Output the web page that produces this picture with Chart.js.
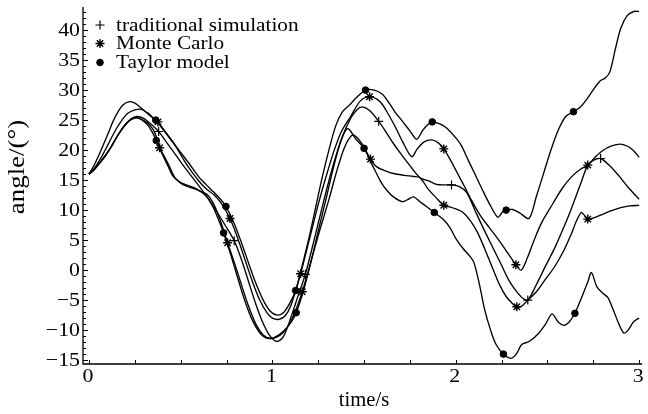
<!DOCTYPE html>
<html>
<head>
<meta charset="utf-8">
<title>angle vs time</title>
<script src="https://cdn.jsdelivr.net/npm/chart.js@4/dist/chart.umd.min.js"></script>
<style>
  html, body { margin: 0; padding: 0; background: #ffffff; }
  #plot { display: block; width: 648px; height: 414px; }
</style>
</head>
<body>
<canvas id="plot" width="648" height="414"></canvas>
<script>
// Angle trajectories, [time (s), angle (deg)]
const taylorUpper = [
  [0,16],[0.025,17.3],[0.05,18.9],[0.08,21],[0.105,22.8],[0.13,24.7],[0.159,26.4],[0.185,27.5],
  [0.215,28.05],[0.245,27.9],[0.27,27.4],[0.3,26.6],[0.335,25.7],[0.364,25],[0.4,23.6],[0.45,21.6],
  [0.5,19.6],[0.55,17.6],[0.6,15.5],[0.64,14.2],[0.68,13],[0.715,11.9],[0.747,10.6],[0.79,7.9],
  [0.83,4.7],[0.87,1.2],[0.91,-2.2],[0.95,-5],[0.99,-6.9],[1.027,-7.5],[1.06,-7.1],[1.09,-5.8],
  [1.127,-3.4],[1.16,0.4],[1.2,5.4],[1.235,10.3],[1.27,15.2],[1.31,20.2],[1.345,24],[1.38,26.3],
  [1.42,27.5],[1.46,28.8],[1.508,30],[1.555,30],[1.6,29.3],[1.64,27.7],[1.67,26.3],[1.71,24.8],
  [1.75,23.2],[1.787,21.8],[1.82,23.3],[1.85,24.3],[1.872,24.7],[1.91,24.4],[1.95,23.7],[1.99,22.4],
  [2.03,20.8],[2.07,18.2],[2.1,16.3],[2.15,13.1],[2.19,10.7],[2.23,8.8],[2.255,9.7],[2.275,10],
  [2.31,10.1],[2.35,9.5],[2.4,8.6],[2.44,12.3],[2.48,16.2],[2.52,20.1],[2.56,23.4],[2.6,25.6],
  [2.642,26.4],[2.68,27.2],[2.72,28.7],[2.76,30.5],[2.79,31.6],[2.815,32],[2.84,33],[2.87,36.8],
  [2.9,40.3],[2.935,42.4],[2.97,43.1],[3,43.1]
];
const monteCarloUpper = [
  [0,16],[0.03,17],[0.06,18.4],[0.09,20.1],[0.12,21.9],[0.15,23.6],[0.18,25],[0.21,26.1],
  [0.25,26.7],[0.285,26.8],[0.32,26.2],[0.35,25.4],[0.376,24.7],[0.42,22.9],[0.47,20.8],[0.52,18.2],
  [0.56,16.4],[0.6,14.8],[0.64,13.5],[0.68,12.6],[0.72,11.2],[0.769,8.6],[0.81,5.4],[0.85,1.8],
  [0.89,-1.8],[0.93,-4.9],[0.97,-7.1],[1.0,-8],[1.036,-8.2],[1.07,-7.6],[1.1,-6],[1.154,-0.6],
  [1.2,4.9],[1.255,11.5],[1.3,16.3],[1.34,20.2],[1.38,23.3],[1.427,25.6],[1.48,28.2],[1.53,28.9],
  [1.57,28.5],[1.6,27.6],[1.63,26.1],[1.67,23.9],[1.71,21.4],[1.76,18.9],[1.79,20.2],[1.83,21.4],
  [1.87,21.7],[1.905,21.2],[1.935,20.2],[1.97,18.4],[2.01,16.1],[2.05,13.8],[2.085,11.7],[2.13,9.3],
  [2.18,7.2],[2.23,5.2],[2.28,3],[2.328,0.9],[2.357,0],[2.39,2],[2.43,5.2],[2.47,8],[2.53,11.1],
  [2.58,13.6],[2.63,15.5],[2.68,16.8],[2.72,17.5],[2.76,18.8],[2.8,19.9],[2.85,20.7],[2.9,21],
  [2.94,20.6],[2.97,19.9],[3,18.8]
];
const traditional = [
  [0,16],[0.03,16.8],[0.06,17.9],[0.09,19.1],[0.12,20.5],[0.16,22.6],[0.2,24.3],[0.23,25.2],
  [0.26,25.6],[0.29,25.4],[0.32,24.8],[0.35,24],[0.38,23.1],[0.43,21],[0.48,18.9],[0.52,17.2],
  [0.57,15.2],[0.62,13.2],[0.66,11.5],[0.7,9.6],[0.75,7.1],[0.792,4.9],[0.83,1.9],[0.87,-1.9],
  [0.91,-5.7],[0.95,-8.9],[0.99,-11.1],[1.025,-11.9],[1.06,-11.1],[1.1,-8],[1.14,-4.3],[1.18,-0.7],
  [1.23,5.3],[1.28,11.5],[1.33,17.3],[1.38,22.1],[1.427,25.3],[1.46,26.7],[1.49,27.2],[1.53,26.6],
  [1.58,24.8],[1.62,23],[1.66,21.1],[1.7,19.4],[1.75,17.4],[1.805,15.4],[1.85,14.9],[1.895,14.3],
  [1.94,14.2],[1.977,14.2],[2.02,13.9],[2.06,12.9],[2.11,9.6],[2.15,7],[2.2,3.9],[2.25,0.8],
  [2.29,-1.7],[2.33,-3.5],[2.366,-4.7],[2.393,-5],[2.44,-2.4],[2.49,0.7],[2.54,3.7],[2.59,7.2],
  [2.63,10.2],[2.68,14.3],[2.72,17.5],[2.75,18.3],[2.79,18.6],[2.84,17.4],[2.89,15.7],[2.94,13.8],
  [3,11.8]
];
const monteCarloLower = [
  [0,16],[0.03,16.8],[0.06,17.9],[0.09,19.1],[0.12,20.5],[0.16,22.6],[0.2,24.3],[0.23,25.1],
  [0.26,25.4],[0.29,25.1],[0.32,24.5],[0.35,23.4],[0.37,22],[0.385,20.4],[0.41,19],[0.44,17.2],
  [0.467,15.5],[0.5,14.5],[0.54,13.9],[0.58,13.5],[0.61,13.1],[0.645,12.6],[0.68,11],[0.71,8.8],
  [0.756,4.55],[0.79,1.5],[0.83,-2.3],[0.87,-6],[0.91,-9],[0.95,-10.8],[0.99,-11.4],[1.02,-11.2],
  [1.06,-10.4],[1.1,-8.6],[1.13,-6.5],[1.163,-3.6],[1.21,1.4],[1.26,6.8],[1.308,11.7],[1.35,16.4],
  [1.39,20.2],[1.42,22],[1.445,22.5],[1.49,21],[1.535,18.5],[1.57,17.2],[1.62,16.5],[1.66,16.1],
  [1.72,15.8],[1.77,15.6],[1.805,15.4],[1.85,13.5],[1.895,12],[1.935,10.8],[1.97,10.5],[2.0,10.2],
  [2.04,9.6],[2.085,8],[2.12,6.2],[2.16,3.4],[2.2,0.4],[2.24,-2.5],[2.275,-4.4],[2.31,-5.6],
  [2.333,-6.1],[2.36,-6],[2.393,-5],[2.44,-3.6],[2.49,-1.5],[2.54,0.6],[2.59,3.3],[2.63,6],
  [2.66,8.3],[2.685,9.6],[2.7,9.2],[2.72,8.5],[2.76,8.8],[2.8,9.3],[2.85,9.9],[2.9,10.4],
  [2.95,10.7],[3,10.8]
];
const taylorLower = [
  [0,16],[0.03,16.8],[0.06,17.9],[0.09,19.1],[0.12,20.5],[0.16,22.6],[0.2,24.3],[0.23,25.1],
  [0.26,25.4],[0.29,25],[0.32,24.2],[0.345,23],[0.367,21.6],[0.4,19.3],[0.43,17.4],[0.457,15.7],
  [0.49,14.8],[0.53,14.2],[0.57,13.8],[0.6,13.3],[0.64,12.3],[0.675,10.6],[0.705,8.5],[0.734,6.2],
  [0.77,2.9],[0.81,-1.2],[0.85,-5.1],[0.89,-8.3],[0.93,-10.4],[0.96,-11.2],[0.99,-11.4],[1.02,-11.1],
  [1.06,-10.2],[1.1,-8.8],[1.13,-7.1],[1.17,-3.4],[1.21,1.3],[1.25,6.5],[1.29,11.5],[1.33,16.7],
  [1.37,21.2],[1.41,23.6],[1.454,21.9],[1.5,20.3],[1.55,17.2],[1.59,14.8],[1.624,13.3],[1.66,12.2],
  [1.71,11.4],[1.74,11.8],[1.77,12.2],[1.805,11.4],[1.84,10.6],[1.883,9.6],[1.93,8.5],[1.97,7],
  [2.0,5.3],[2.04,3.6],[2.08,2.2],[2.1,1.2],[2.13,-2.5],[2.157,-6.5],[2.19,-10],[2.22,-12.4],
  [2.26,-14],[2.3,-14.7],[2.33,-14],[2.36,-12.4],[2.4,-11.9],[2.45,-10.6],[2.49,-9],[2.525,-7.3],
  [2.56,-8.7],[2.59,-9.2],[2.62,-8.6],[2.65,-7.2],[2.69,-4.3],[2.72,-2],[2.74,-0.4],[2.77,-2.8],
  [2.8,-3.8],[2.83,-4.6],[2.86,-6.7],[2.89,-9],[2.917,-10.5],[2.94,-10],[2.97,-8.6],[3,-8]
];

// Sample markers placed along the trajectories
const traditionalMarks = [[0.38,23.1],[0.792,4.9],[1.18,-0.7],[1.58,24.8],[1.977,14.2],[2.393,-5],[2.79,18.6]];
const monteCarloMarks = [
  [0.376,24.7],[0.385,20.4],[0.769,8.6],[0.756,4.55],[1.154,-0.6],[1.163,-3.6],[1.53,28.9],
  [1.535,18.5],[1.935,20.2],[1.935,10.8],[2.328,0.9],[2.333,-6.1],[2.72,17.5],[2.72,8.5]
];
const taylorMarks = [
  [0.364,25],[0.367,21.6],[0.747,10.6],[0.734,6.2],[1.127,-3.4],[1.13,-7.1],[1.508,30],
  [1.5,20.3],[1.872,24.7],[1.883,9.6],[2.275,10],[2.26,-14],[2.642,26.4],[2.65,-7.2]
];

const legendNames = ['traditional simulation', 'Monte Carlo', 'Taylor model'];
const xTickLabels = [0, 1, 2, 3];
const xTickStep = 0.25;
const yTickLabels = [-15, -10, -5, 0, 5, 10, 15, 20, 25, 30, 35, 40];
const xTitle = 'time/s';
const yTitle = 'angle/(\u00b0)';

const SERIF = '"Liberation Serif", "DejaVu Serif", serif';
const toXY = arr => arr.map(([x, y]) => ({ x, y }));

const curve = data => ({
  data: toXY(data),
  borderColor: '#000',
  borderWidth: 1.35,
  pointRadius: 0,
  tension: 0.3,
  fill: false,
  order: 2
});
const markerStyles = [
  { pointStyle: 'cross', radius: 4.5, borderWidth: 1.2, backgroundColor: '#000' },
  { pointStyle: 'star', radius: 4.5, borderWidth: 1.4, backgroundColor: '#000' },
  { pointStyle: 'circle', radius: 3.3, borderWidth: 1, backgroundColor: '#000' }
];
const markers = (data, s) => ({
  data: toXY(data),
  showLine: false,
  pointStyle: s.pointStyle,
  pointRadius: s.radius,
  pointBorderWidth: s.borderWidth,
  pointBorderColor: '#000',
  pointBackgroundColor: s.backgroundColor,
  order: 1
});

// text drawn with a slight horizontal widening, as in the typeset figure
function wideText(ctx, txt, x, y, align, sx) {
  ctx.save();
  ctx.translate(x, y);
  ctx.scale(sx, 1);
  ctx.textAlign = align;
  ctx.fillText(txt, 0, 0);
  ctx.restore();
}

// Axes with inward ticks, tick labels, titles and an in-plot legend
const axisFrame = {
  id: 'axisFrame',
  beforeDatasetsDraw(chart) {
    const { ctx, chartArea: a, scales: { x, y } } = chart;
    ctx.save();
    ctx.strokeStyle = '#000';
    ctx.lineWidth = 1.3;
    ctx.beginPath();
    ctx.moveTo(a.left, a.top);
    ctx.lineTo(a.left, a.bottom);
    ctx.lineTo(a.right, a.bottom);
    ctx.stroke();

    ctx.lineWidth = 1;
    ctx.beginPath();
    for (let v = Math.ceil(y.min); v <= y.max; v++) {
      const py = Math.round(y.getPixelForValue(v)) + 0.5;
      const len = v % 5 === 0 ? 5 : 3;
      ctx.moveTo(a.left, py);
      ctx.lineTo(a.left + len, py);
    }
    for (let v = 0; v <= 3 + 1e-9; v += xTickStep) {
      const px = Math.round(x.getPixelForValue(v)) + 0.5;
      ctx.moveTo(px, a.bottom);
      ctx.lineTo(px, a.bottom - 4);
    }
    ctx.stroke();

    ctx.fillStyle = '#000';
    ctx.font = '19px ' + SERIF;
    ctx.textBaseline = 'middle';
    yTickLabels.forEach(v => {
      const txt = v < 0 ? '\u2212' + Math.abs(v) : String(v);
      wideText(ctx, txt, a.left - 3, y.getPixelForValue(v) + 1, 'right', 1.15);
    });
    ctx.textBaseline = 'top';
    xTickLabels.forEach(v => wideText(ctx, String(v), x.getPixelForValue(v) - 1, a.bottom + 4, 'center', 1.15));

    ctx.font = '20px ' + SERIF;
    ctx.textBaseline = 'middle';
    wideText(ctx, xTitle, (x.getPixelForValue(0) + x.getPixelForValue(3)) / 2, 401, 'center', 1.03);

    ctx.save();
    ctx.translate(18, 167);
    ctx.rotate(-Math.PI / 2);
    ctx.font = '24px ' + SERIF;
    ctx.scale(1.12, 1);
    ctx.textAlign = 'center';
    ctx.fillText(yTitle, 0, 0);
    ctx.restore();

    // legend
    ctx.font = '19px ' + SERIF;
    ctx.textBaseline = 'middle';
    const rows = [25, 43.5, 62.5];
    legendNames.forEach((name, i) => {
      const s = markerStyles[i];
      ctx.lineWidth = s.borderWidth;
      ctx.strokeStyle = '#000';
      ctx.fillStyle = '#000';
      Chart.helpers.drawPoint(ctx, { pointStyle: s.pointStyle, radius: s.radius, borderWidth: s.borderWidth }, 100, rows[i]);
      ctx.fillStyle = '#000';
      wideText(ctx, name, 116, rows[i] + 1, 'left', 1.12);
    });
    ctx.restore();
  }
};

new Chart(document.getElementById('plot'), {
  type: 'line',
  data: {
    datasets: [
      curve(taylorUpper),
      curve(monteCarloUpper),
      curve(traditional),
      curve(monteCarloLower),
      curve(taylorLower),
      markers(traditionalMarks, markerStyles[0]),
      markers(monteCarloMarks, markerStyles[1]),
      markers(taylorMarks, markerStyles[2])
    ]
  },
  options: {
    responsive: false,
    devicePixelRatio: 1,
    animation: false,
    layout: { padding: { left: 83, right: 3, top: 7, bottom: 50 } },
    scales: {
      x: { type: 'linear', min: -0.0326, max: 3.0163, display: false },
      y: { type: 'linear', min: -15.65, max: 43.85, display: false }
    },
    plugins: {
      legend: { display: false },
      tooltip: { enabled: false }
    }
  },
  plugins: [axisFrame]
});
</script>
</body>
</html>
